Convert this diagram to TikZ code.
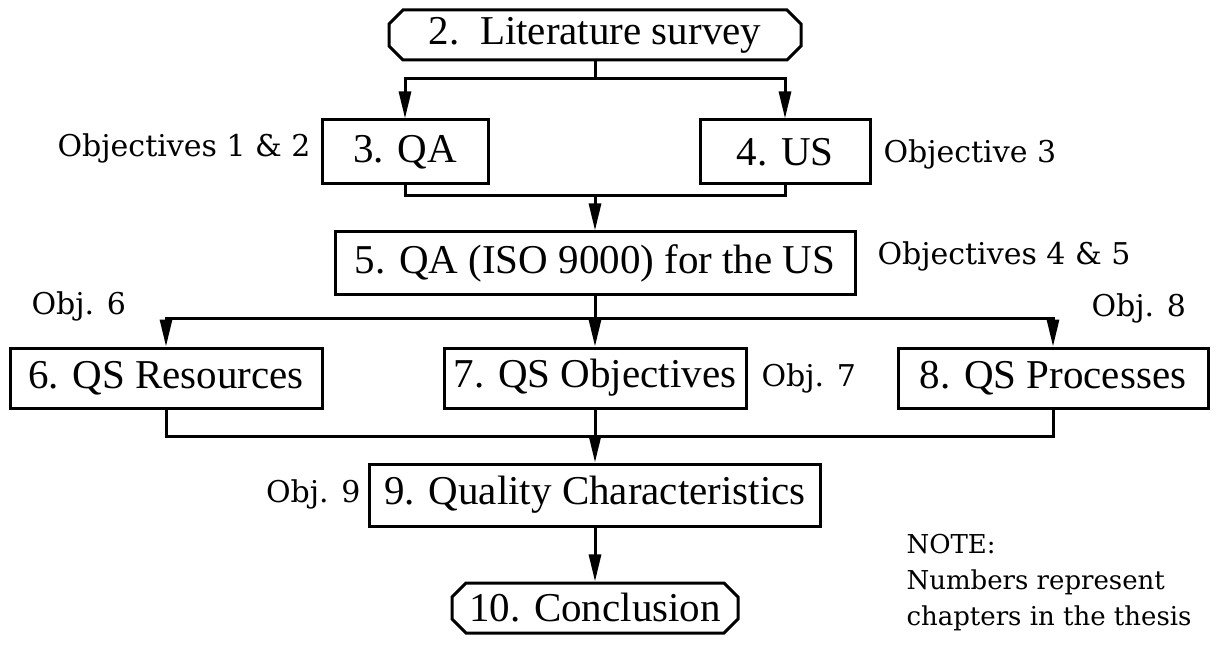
\documentclass[tikz,border=0pt]{standalone}
\usepackage{fontspec}
\setmainfont{Liberation Serif}
\newfontfamily\objfont{DejaVu Serif}
\usetikzlibrary{positioning,arrows.meta,shapes.misc}

\begin{document}
\begin{tikzpicture}[x=1pt,y=-1pt,line width=3pt,
  arr/.style={-{Triangle[length=27pt,width=12pt]}},
  box/.style={draw,rectangle,inner sep=0pt,minimum height=60pt,
    font=\fontsize{41}{46}\selectfont},
  term/.style={draw,chamfered rectangle,chamfered rectangle xsep=11pt,
    inner sep=0pt,minimum height=50pt,font=\fontsize{41}{46}\selectfont},
  lbl/.style={font=\objfont\fontsize{30}{36}\selectfont,inner sep=0pt}]
\useasboundingbox (0,0) rectangle (1220,652);
% chapters
\node[term,minimum width=412pt] (lit) at (595,35) {2.\ \ Literature survey};
\node[box,minimum width=166pt,minimum height=64pt] (qa) at (405,152) {3. QA};
\node[box,minimum width=170pt,minimum height=64pt] (us) at (785,152) {4. US};
\node[box,minimum width=520pt,minimum height=62pt] (qaus) at (595,263) {5. QA (ISO 9000) for the US};
\node[box,minimum width=312pt,minimum height=60pt] (res) at (166,378) {6. QS Resources};
\node[box,minimum width=302pt,minimum height=60pt] (obj) at (595,378) {7. QS Objectives};
\node[box,minimum width=310pt,minimum height=60pt] (proc) at (1053,378) {8. QS Processes};
\node[box,minimum width=451pt,minimum height=62pt] (qc) at (595,495) {9. Quality Characteristics};
\node[term,minimum width=286pt] (concl) at (595,608) {10. Conclusion};
% objectives
\node[lbl,anchor=east] (o12) at (312,148) {Objectives 1 \& 2};
\node[lbl,anchor=west] (o3) at (882,154) {Objective 3};
\node[lbl,anchor=west] (o45) at (876,256) {Objectives 4 \& 5};
\node[lbl,anchor=west] (o6) at (30,306) {Obj. 6};
\node[lbl,anchor=west] (o7) at (760,378) {Obj. 7};
\node[lbl,anchor=west] (o8) at (1090,308) {Obj. 8};
\node[lbl,anchor=east] (o9) at (362,494) {Obj. 9};
\node[lbl,anchor=north west,align=left,font=\objfont\fontsize{26}{36}\selectfont]
  (note) at (905,533) {NOTE:\\Numbers represent\\chapters in the thesis};
% junctions
\coordinate (j1) at (595,79);
\coordinate (j2) at (595,196);
\coordinate (j3) at (595,318);
\coordinate (j4) at (595,436);
\draw (lit) -- (j1);
\draw[arr] (j1) -| (qa);
\draw[arr] (j1) -| (us);
\draw (qa) |- (j2) -| (us);
\draw[arr] (j2) -- (qaus);
\draw (qaus) -- (j3);
\draw[arr] (j3) -| (res);
\draw[arr] (j3) -- (obj);
\draw[arr] (j3) -| (proc);
\draw (res) |- (j4) -| (proc);
\draw (obj) -- (j4);
\draw[arr] (j4) -- (qc);
\draw[arr] (qc) -- (concl);
\end{tikzpicture}
\end{document}
